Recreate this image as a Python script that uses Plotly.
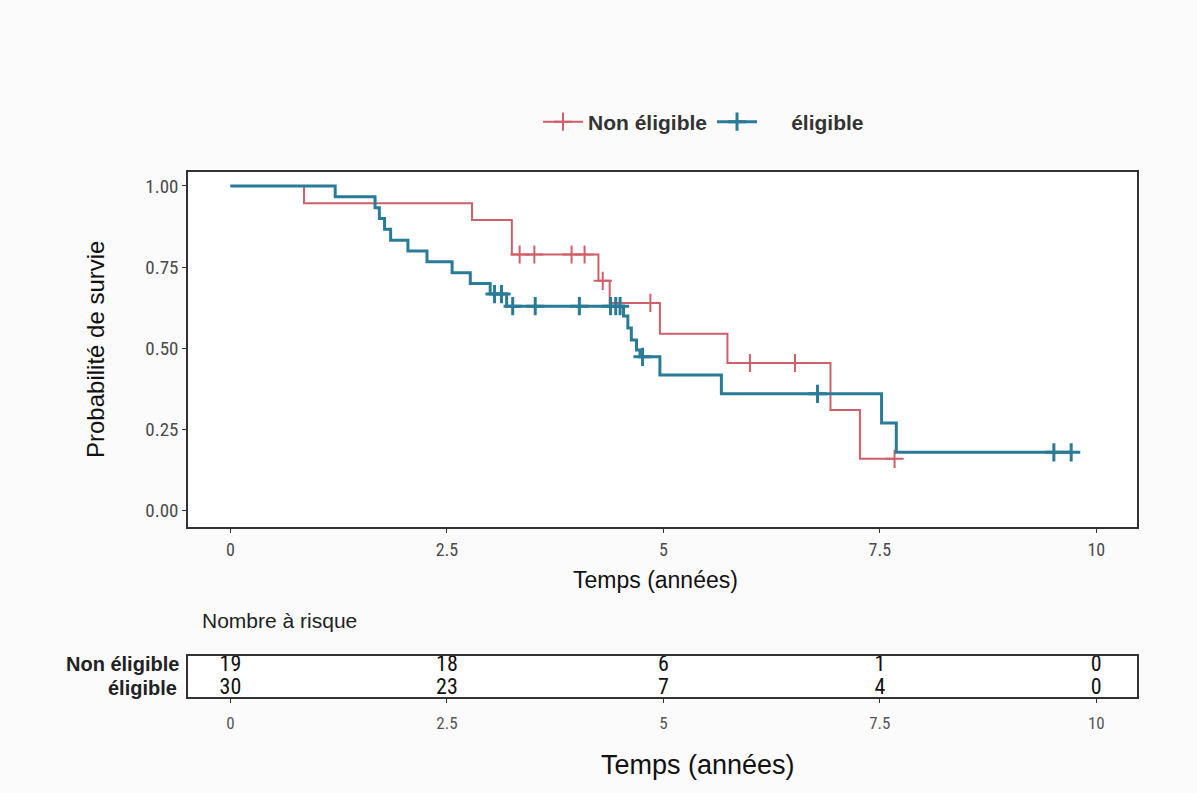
import numpy as np
import plotly.graph_objects as go

# Kaplan-Meier step points (time in years, survival after the step)
red_name = "Non éligible"
red_t = [0, 0.85, 2.79, 3.25, 4.25, 4.38, 4.96, 5.74, 6.93, 7.27]
red_s = [1.0, 0.947, 0.895, 0.789, 0.708, 0.640, 0.545, 0.455, 0.310, 0.160]
red_cens = [3.34, 3.51, 3.94, 4.09, 4.30, 4.85, 6.00, 6.52, 7.67]

blue_name = "éligible"
blue_t = [0, 1.21, 1.67, 1.72, 1.78, 1.85, 2.05, 2.27, 2.56, 2.77, 3.00, 3.19,
          4.54, 4.59, 4.63, 4.69, 4.73, 4.96, 5.67, 7.52, 7.69]
blue_s = [1.0, 0.967, 0.933, 0.900, 0.867, 0.833, 0.800, 0.767, 0.733, 0.700, 0.667, 0.630,
          0.600, 0.563, 0.526, 0.495, 0.474, 0.418, 0.360, 0.270, 0.180]
blue_cens = [3.05, 3.13, 3.26, 3.52, 4.03, 4.39, 4.45, 4.50, 4.76, 6.78, 9.51, 9.71]

# Number at risk table
risk_times = [0, 2.5, 5, 7.5, 10]
risk_red = [19, 18, 6, 1, 0]
risk_blue = [30, 23, 7, 4, 0]

x_ticks = [0, 2.5, 5, 7.5, 10]
x_tick_text = ["0", "2.5", "5", "7.5", "10"]
y_ticks = [0, 0.25, 0.5, 0.75, 1.0]
y_tick_text = ["0.00", "0.25", "0.50", "0.75", "1.00"]

RED = "#CF5F69"
BLUE = "#2A7B98"

W, H = 1197, 793
SANS = "Liberation Sans, Arial, sans-serif"
NARROW = "Liberation Sans Narrow, Arial Narrow, Roboto Condensed, Arial, sans-serif"


def km_at(times, surv, t):
    idx = np.searchsorted(times, t, side="right") - 1
    return surv[idx]


def curve(times, surv, cens):
    end = max(times[-1], max(cens))
    return list(times) + [end], list(surv) + [surv[-1]]


fig = go.Figure()

for name, t, s, cens, color, lw in [
    (red_name, red_t, red_s, red_cens, RED, 2),
    (blue_name, blue_t, blue_s, blue_cens, BLUE, 3),
]:
    cx, cy = curve(t, s, cens)
    fig.add_trace(go.Scatter(
        x=cx, y=cy, mode="lines", line=dict(color=color, width=lw, shape="hv"),
        showlegend=False, xaxis="x", yaxis="y", hoverinfo="skip"))
    fig.add_trace(go.Scatter(
        x=cens, y=[km_at(t, s, c) for c in cens], mode="markers",
        marker=dict(symbol="cross-thin", size=13, line=dict(color=color, width=lw)),
        showlegend=False, xaxis="x", yaxis="y", hoverinfo="skip"))

# legend entries
fig.add_trace(go.Scatter(
    x=[None], y=[None], mode="lines+markers", name=red_name,
    line=dict(color=RED, width=2),
    marker=dict(symbol="cross-thin", size=13, line=dict(color=RED, width=2))))
fig.add_trace(go.Scatter(
    x=[None], y=[None], mode="lines+markers", name="\u00a0" * 5 + blue_name,
    line=dict(color=BLUE, width=3),
    marker=dict(symbol="cross-thin", size=13, line=dict(color=BLUE, width=3))))

# risk table numbers
fig.add_trace(go.Scatter(
    x=risk_times, y=[0.78] * len(risk_times), mode="text", cliponaxis=False,
    text=[str(v) for v in risk_red], textfont=dict(size=22, color="#111111", family=NARROW),
    showlegend=False, xaxis="x2", yaxis="y2", hoverinfo="skip"))
fig.add_trace(go.Scatter(
    x=risk_times, y=[0.2] * len(risk_times), mode="text", cliponaxis=False,
    text=[str(v) for v in risk_blue], textfont=dict(size=22, color="#111111", family=NARROW),
    showlegend=False, xaxis="x2", yaxis="y2", hoverinfo="skip"))

x0, x1 = 188 / W, 1137 / W
axis_common = dict(showgrid=False, zeroline=False, showline=True, linecolor="#333333",
                   linewidth=1.5, mirror=True, ticks="outside", ticklen=4,
                   tickcolor="#333333")

fig.update_layout(
    width=W, height=H,
    margin=dict(l=0, r=0, t=0, b=0),
    paper_bgcolor="#fbfbfb", plot_bgcolor="#ffffff",
    font=dict(family=SANS, color="#222222"),
    showlegend=True,
    legend=dict(orientation="h", x=538 / W, y=1 - 122 / H, xanchor="left", yanchor="middle",
                font=dict(size=21, color="#333333", family=SANS, weight="bold"),
                bgcolor="rgba(0,0,0,0)", itemwidth=40, tracegroupgap=0),
    xaxis=dict(domain=[x0, x1], range=[-0.49, 10.47], tickvals=x_ticks, ticktext=x_tick_text,
               tickfont=dict(size=18, color="#4a4a4a", family=NARROW), anchor="y",
               ticklabelstandoff=2, **axis_common),
    yaxis=dict(domain=[1 - 527 / H, 1 - 172 / H], range=[-0.05, 1.043], tickvals=y_ticks,
               ticktext=y_tick_text, tickfont=dict(size=19, color="#4a4a4a", family=NARROW),
               anchor="x", **axis_common),
    xaxis2=dict(domain=[x0, x1], range=[-0.49, 10.47], tickvals=x_ticks, ticktext=x_tick_text,
                tickfont=dict(size=17, color="#555555", family=NARROW), anchor="y2",
                ticklabelstandoff=6, **axis_common),
    yaxis2=dict(domain=[1 - 697 / H, 1 - 656 / H], range=[0, 1], showticklabels=False,
                anchor="x2", showgrid=False, zeroline=False, showline=True,
                linecolor="#333333", linewidth=1.5, mirror=True, ticks=""),
)

annots = [
    dict(text="Probabilité de survie", x=95 / W, y=1 - 350 / H, textangle=-90,
         font=dict(size=24, color="#111111")),
    dict(text="Temps (années)", x=655 / W, y=1 - 580 / H, font=dict(size=23, color="#111111")),
    dict(text="Temps (années)", x=698 / W, y=1 - 765 / H, font=dict(size=27, color="#111111")),
    dict(text="Nombre à risque", x=200 / W, y=1 - 620 / H, xanchor="left",
         font=dict(size=21, color="#222222")),
    dict(text=red_name, x=181 / W, y=1 - 664 / H, xanchor="right",
         font=dict(size=20, color="#222222", weight="bold")),
    dict(text=blue_name, x=179 / W, y=1 - 688 / H, xanchor="right",
         font=dict(size=20, color="#222222", weight="bold")),
]
for a in annots:
    a.setdefault("xanchor", "center")
    fig.add_annotation(xref="paper", yref="paper", showarrow=False, yanchor="middle", **a)

fig.write_html("out.html")
